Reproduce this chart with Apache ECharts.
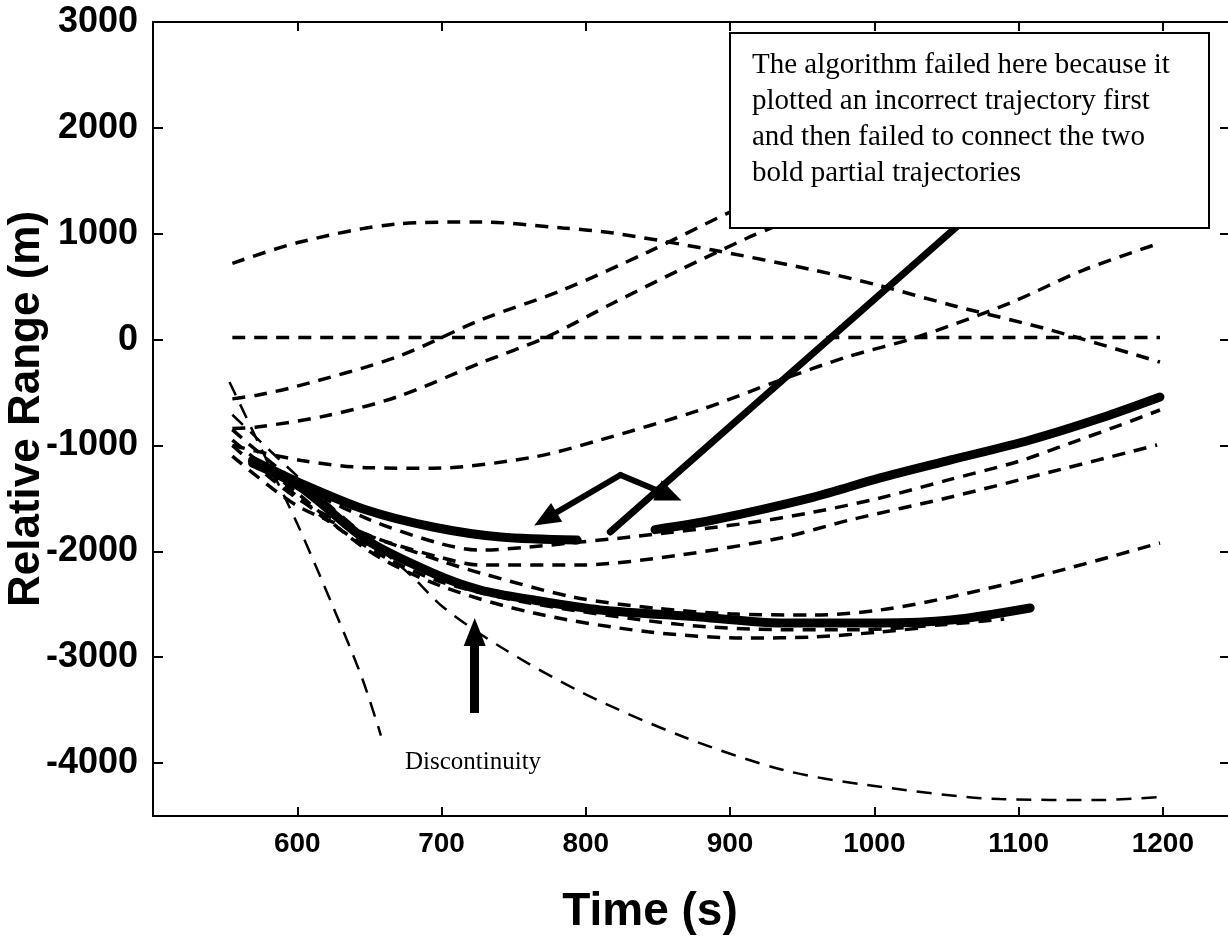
<!DOCTYPE html>
<html><head><meta charset="utf-8">
<script src="https://cdn.jsdelivr.net/npm/echarts@6/dist/echarts.min.js"></script>
<style>html,body{margin:0;padding:0;background:#fff}#c{width:1228px;height:937px}</style>
</head><body><div id="c"></div>
<script>
// axis ticks
const xTicks = [600, 700, 800, 900, 1000, 1100, 1200];
const yTicks = [-4000, -3000, -2000, -1000, 0, 1000, 2000, 3000];

// dashed candidate trajectories: [time (s), relative range (m)]
const trajHump = [[555,720],[602,922],[669,1092],[727,1111],[784,1054],[819,1007],[888,846],[958,657],[1002,516],[1053,327],[1122,91],[1198,-212]];
const trajZero = [[555,20],[700,20],[900,20],[1100,20],[1198,20]];
const trajA = [[555,-560],[572,-525],[600,-440],[669,-164],[727,185],[784,468],[843,827],[900,1205],[940,1450]];
const trajB = [[555,-840],[572,-826],[620,-720],[669,-542],[727,-221],[773,25],[819,346],[865,657],[912,960],[930,1064],[960,1260]];
const trajC = [[555,-1000],[602,-1140],[650,-1210],[694,-1215],[764,-1109],[810,-948],[879,-665],[935,-382],[981,-164],[1030,25],[1094,346],[1145,657],[1198,912]];
const trajE = [[555,-1100],[600,-1570],[650,-1853],[700,-2092],[727,-2205],[791,-2431],[850,-2540],[900,-2590],[958,-2602],[1004,-2554],[1053,-2431],[1122,-2205],[1198,-1921]];
const trajF1 = [[555,-850],[600,-1350],[650,-1700],[700,-1930],[727,-1988],[760,-1960],[796,-1912],[831,-1865],[912,-1733],[958,-1629],[1004,-1496],[1050,-1330],[1100,-1150],[1136,-977],[1170,-810],[1198,-665]];
const trajF2 = [[555,-1000],[600,-1500],[650,-1850],[700,-2060],[727,-2129],[796,-2129],[865,-2035],[935,-1874],[983,-1704],[1053,-1487],[1122,-1251],[1196,-996]];
const trajG = [[555,-950],[600,-1450],[650,-2000],[700,-2330],[764,-2583],[843,-2760],[912,-2819],[958,-2809],[1004,-2762],[1032,-2724]];
const trajG2 = [[580,-1250],[620,-1700],[660,-2050],[700,-2290],[761,-2488],[865,-2690],[935,-2740],[990,-2740],[1050,-2690],[1090,-2640]];
// thin long-dash predictions
const trajS1 = [[553,-400],[575,-1030],[600,-1740],[625,-2530],[645,-3200],[658,-3740]];
const trajL = [[555,-710],[600,-1290],[650,-1890],[680,-2243],[701,-2526],[741,-2904],[798,-3338],[868,-3754],[937,-4066],[995,-4207],[1087,-4340],[1157,-4349],[1198,-4321]];
// bold partial trajectories
const boldU1 = [[569,-1140],[602,-1355],[648,-1610],[694,-1770],[741,-1865],[794,-1893]];
const boldU2 = [[848,-1795],[888,-1704],[958,-1487],[1004,-1307],[1053,-1137],[1108,-948],[1157,-741],[1198,-542]];
const boldW = [[569,-1166],[602,-1392],[648,-1893],[694,-2205],[727,-2365],[764,-2460],[810,-2554],[879,-2620],[935,-2677],[1004,-2677],[1053,-2649],[1108,-2535]];

// annotation arrows (data coordinates)
const pointerLine = [[1057,1064],[817,-1817]];
const bentArrow = [[772,-1694],[824,-1279],[858,-1472]];
const upArrow = [[723,-3527],[723,-2762]];

const annotationText = 'The algorithm failed here because it\nplotted an incorrect trajectory first\nand then failed to connect the two\nbold partial trajectories';
const discText = 'Discontinuity';

const SANS = '"Liberation Sans", Arial, sans-serif';
const SERIF = '"Liberation Serif", "Times New Roman", serif';

const series = [];
[trajHump, trajZero, trajA, trajB, trajC, trajE, trajF1, trajF2, trajG, trajG2].forEach(d => series.push({
  type: 'line', data: d, smooth: 0.3, showSymbol: false, silent: true,
  lineStyle: { color: '#000', width: 3.5, type: [13, 9], cap: 'butt' }
}));
[trajS1, trajL].forEach(d => series.push({
  type: 'line', data: d, smooth: 0.3, showSymbol: false, silent: true,
  lineStyle: { color: '#000', width: 2.5, type: [15, 10], cap: 'butt' }
}));
[boldU1, boldU2, boldW].forEach(d => series.push({
  type: 'line', data: d, smooth: 0.3, showSymbol: false, silent: true, z: 3,
  lineStyle: { color: '#000', width: 9, cap: 'round' }
}));
series.push({
  type: 'line', data: [], silent: true, z: 4,
  markLine: {
    silent: true, animation: false, symbol: 'none', label: { show: false },
    lineStyle: { color: '#000', width: 7, type: 'solid', cap: 'round' },
    emphasis: { disabled: true },
    data: [
      [{ coord: pointerLine[0], symbol: 'none' }, { coord: pointerLine[1], symbol: 'none' }],
      [{ coord: bentArrow[1], symbol: 'none', lineStyle: { width: 6 } }, { coord: bentArrow[0], symbol: 'triangle', symbolSize: [22, 26] }],
      [{ coord: bentArrow[1], symbol: 'none', lineStyle: { width: 6 } }, { coord: bentArrow[2], symbol: 'triangle', symbolSize: [22, 26] }],
      [{ coord: upArrow[0], symbol: 'none', lineStyle: { width: 9, cap: 'butt' } }, { coord: upArrow[1], symbol: 'triangle', symbolSize: [22, 28] }]
    ]
  }
});

const axisLineStyle = { color: '#000', width: 2 };
const option = {
  animation: false,
  backgroundColor: '#fff',
  grid: { left: 153, top: 22, width: 1082, height: 794, containLabel: false, outerBoundsMode: 'none' },
  xAxis: [
    {
      type: 'value', min: 500, max: 1250, position: 'bottom',
      axisLine: { onZero: false, lineStyle: axisLineStyle },
      axisTick: { inside: true, length: 9, customValues: xTicks, lineStyle: axisLineStyle },
      axisLabel: { customValues: xTicks, formatter: v => String(v), fontSize: 28, fontWeight: 'bold', fontFamily: SANS, color: '#000', margin: 14 },
      splitLine: { show: false },
      name: 'Time (s)', nameLocation: 'middle', nameGap: 73,
      nameTextStyle: { fontSize: 46, fontWeight: 'bold', fontFamily: SANS, color: '#000', padding: [0, 88, 0, 0] }
    },
    {
      type: 'value', min: 500, max: 1250, position: 'top',
      axisLine: { onZero: false, lineStyle: axisLineStyle },
      axisTick: { inside: true, length: 9, customValues: xTicks, lineStyle: axisLineStyle },
      axisLabel: { show: false }, splitLine: { show: false }
    }
  ],
  yAxis: [
    {
      type: 'value', min: -4500, max: 3000, position: 'left',
      axisLine: { onZero: false, lineStyle: axisLineStyle },
      axisTick: { inside: true, length: 10, customValues: yTicks, lineStyle: axisLineStyle },
      axisLabel: { customValues: yTicks, formatter: v => String(v), fontSize: 36, fontWeight: 'bold', fontFamily: SANS, color: '#000', margin: 15 },
      splitLine: { show: false },
      name: 'Relative Range (m)', nameLocation: 'middle', nameGap: 104, nameMoveOverlap: false,
      nameTextStyle: { fontSize: 44, fontWeight: 'bold', fontFamily: SANS, color: '#000', padding: [0, 0, 0, 20] }
    },
    {
      type: 'value', min: -4500, max: 3000, position: 'right',
      axisLine: { onZero: false, lineStyle: axisLineStyle },
      axisTick: { inside: true, length: 15, customValues: yTicks, lineStyle: axisLineStyle },
      axisLabel: { show: false }, splitLine: { show: false }
    }
  ],
  graphic: [
    {
      type: 'rect', z: 100, shape: { x: 730, y: 33, width: 479, height: 195 },
      style: { fill: '#fff', stroke: '#000', lineWidth: 2 }
    },
    {
      type: 'text', z: 101, x: 752, y: 47,
      style: { text: annotationText, fontSize: 29, fontFamily: SERIF, fill: '#000', lineHeight: 36, textVerticalAlign: 'top' }
    },
    {
      type: 'text', z: 101, x: 405, y: 750,
      style: { text: discText, fontSize: 25, fontFamily: SERIF, fill: '#000', textVerticalAlign: 'top' }
    }
  ],
  series: series
};
const chart = echarts.init(document.getElementById('c'), null, { renderer: 'canvas' });
chart.setOption(option);
</script>
</body></html>
